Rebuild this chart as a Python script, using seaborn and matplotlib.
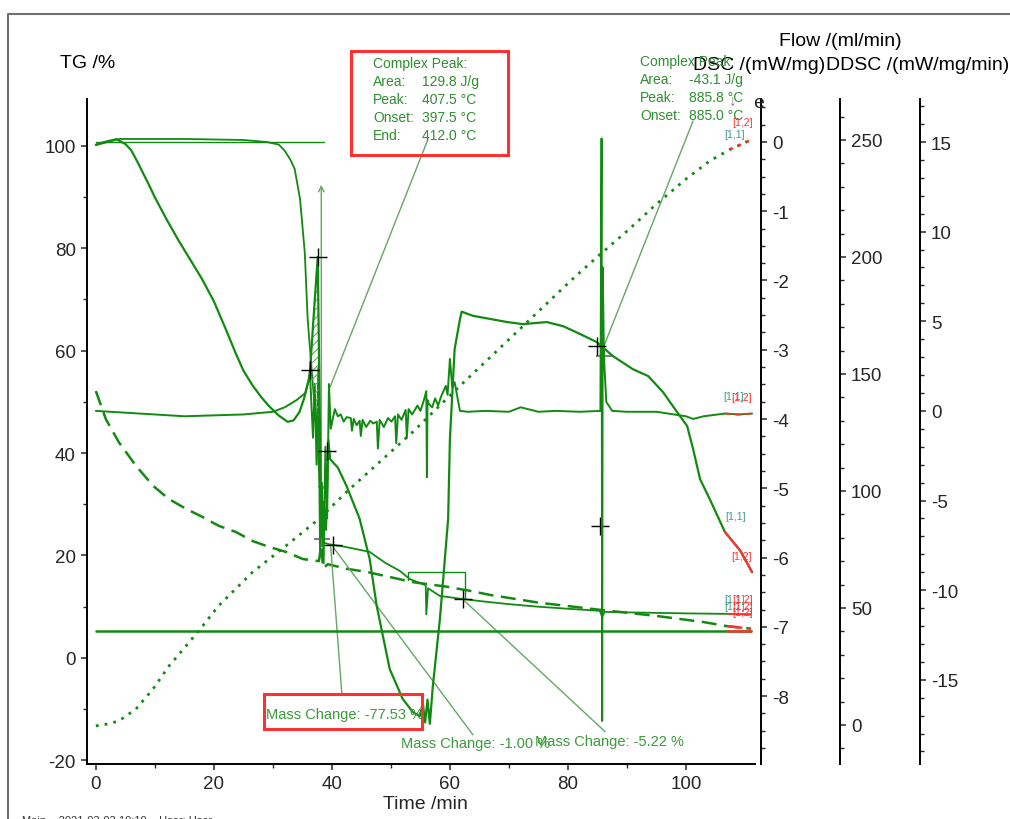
import matplotlib
matplotlib.use("Agg")
import matplotlib.pyplot as plt
from matplotlib.patches import Rectangle
from matplotlib.lines import Line2D
from matplotlib.ticker import MultipleLocator, FixedLocator
import numpy as np
import seaborn as sns

# ---- data (time in min) ----
# TG /% (solid)
tg_t = [0, 2, 4, 8, 15, 20, 25, 29, 31, 32, 33, 33.7, 34.6, 35.4, 35.9, 36.8, 37.5, 38.0, 38.3, 38.6,
        39.5, 42.2, 46.4, 49, 51.5, 53.2, 55.4, 55.9, 56.0, 56.3, 58.3, 62.2, 65.1, 70, 75, 80, 85.4,
        85.8, 86.2, 90, 95, 100, 107, 111]
tg_v = [100.1, 100.7, 101.3, 101.3, 101.3, 101.2, 101.1, 100.7, 100.2, 99.0, 97.2, 95.4, 89.6, 79.2,
        66.0, 53.0, 43.0, 33.0, 23.0, 22.5, 22.2, 21.7, 20.7, 18.6, 17.0, 15.4, 14.4, 14.2, 8.5, 13.6,
        12.1, 11.5, 11.1, 10.5, 10.0, 9.6, 9.2, 8.0, 9.0, 8.9, 8.8, 8.7, 8.6, 8.5]

# second mass curve (dashed, TG scale)
da_t = [0, 1.7, 3.9, 6.8, 9.7, 12.4, 15.3, 18.1, 20.8, 23.7, 26.6, 29.3, 32.2, 35.1, 37.8, 38.2, 38.5,
        39.3, 42.5, 45.9, 49.8, 53.7, 59.5, 63.4, 66.8, 75, 85.4, 95, 103, 107, 111]
da_v = [52.1, 46.6, 42.1, 37.5, 33.6, 31.0, 29.1, 27.5, 25.8, 24.6, 22.8, 21.7, 20.7, 19.3, 18.9, 22.0,
        17.5, 18.3, 17.4, 16.8, 15.8, 14.8, 13.9, 13.1, 12.3, 10.8, 9.4, 8.2, 7.0, 6.2, 5.7]

# DSC /(mW/mg)
dsc_t = [0, 1.5, 3.5, 5, 6, 7, 8, 9, 10, 12, 14, 16, 18, 20, 22, 23.7, 25, 26.6, 28, 29.3, 31, 32.5,
         33.5, 34.5, 35.3, 36.1, 36.3, 37.0, 37.6,
         37.9, 38.2, 38.6, 39.0, 39.4, 39.7, 41.0, 42.5, 44.7, 46.4, 47.6, 49.8, 52.0, 53.7, 54.9, 55.4,
         55.8, 56.2, 56.6, 57.1, 58.3, 59.7, 60.0, 60.8, 61.7, 62.0, 63.9, 69.7, 72.4, 76.4, 79.2, 82.0,
         84.9, 87.6, 91.0, 93.6, 96.1, 98.5, 100.2, 101.2, 102.4, 104.0, 106.6, 109.2, 111.2]
dsc_v = [-0.04, 0.0, 0.04, -0.03, -0.12, -0.28, -0.45, -0.62, -0.80, -1.12, -1.42, -1.70, -1.98,
         -2.30, -2.70, -3.05, -3.30, -3.52, -3.68, -3.81, -3.95, -4.04,
         -4.02, -3.90, -3.70, -3.42, -3.29, -2.40, -1.66, -3.60, -5.70, -5.20, -5.60, -4.30, -4.58,
         -4.70, -4.97, -5.44, -6.02, -6.70, -7.61, -8.04, -8.23, -8.29, -8.10, -8.38, -8.05, -8.40,
         -7.86, -6.89, -5.44, -4.29, -2.99, -2.56, -2.45, -2.51, -2.60, -2.63, -2.60, -2.66, -2.77,
         -2.89, -3.09, -3.28, -3.38, -3.61, -3.90, -4.10, -4.43, -4.87, -5.15, -5.63, -5.90, -6.21]

# DDSC /(mW/mg/min)
dd_t = [0, 5, 10, 15, 20, 25, 30, 32, 34, 35.5, 36.3, 36.8, 37.1, 37.4, 37.7, 38.0, 38.3, 38.6, 38.9,
        39.2, 39.5, 39.8, 40.5, 41.0, 41.5, 42.0, 42.5, 43.2, 43.4, 43.7, 44.2, 44.7, 44.9, 45.2, 45.8,
        46.5, 47.0, 47.6, 47.8, 48.1, 48.8, 49.5, 50.1, 50.7, 50.9, 51.2, 51.8, 52.5, 52.7, 53.0, 53.6,
        54.5, 55.0, 55.5, 56.0, 56.1, 56.2, 56.4, 57.0, 57.5, 58.0, 58.5, 59.3,
        59.6, 60.0, 60.4, 60.8, 61.7, 63, 66, 70, 72, 75, 78, 82, 85.5, 85.7, 85.8, 85.9, 86.1, 86.5,
        87.5, 90, 95, 100, 101.2, 103, 106.6, 109, 111.2]
dd_v = [0, -0.1, -0.2, -0.3, -0.25, -0.2, -0.05, 0.2, 0.6, 1.0, 2.0, -1.5, 1.5, -3.0, 2.4, -8.0, -4.0,
        -8.5, -2.0, -6.0, 1.5, -1.0, 0.1, -0.3, -0.2, -0.6, -0.35, -0.4, -1.1, -0.45, -0.8, -0.55,
        -1.4, -0.5, -0.9, -0.55, -0.7, -0.6, -2.1, -0.5, -0.9, -0.4, -0.6, -0.3, -1.8, -0.2, -0.5,
        0.05, -1.5, 0.1, -0.2, 0.3, 0.0, 0.5, 1.1, -3.7, 0.6, 0.4, 0.2, 0.7, 0.3, 0.8, 1.4,
        0.9, 2.9, 1.3, 1.6, 0.0, -0.05, 0.0, -0.05, 0.2, -0.05, 0.0, -0.05, 0.0, 15.2, -17.3,
        8.0, 3.0, 0.5, 0.0, -0.05, -0.05, -0.3, -0.45, -0.3, -0.15, -0.2, -0.15]

# Flow /(ml/min): dotted ramp and constant purge
dot_t = [0, 2, 3.9, 6.8, 9.7, 12.4, 15.3, 18.1, 20.8, 26.6, 32.2, 37.8, 42.5, 53.7, 61.7, 65.1, 80.8,
         85.4, 90, 95, 100, 104, 107.5, 111]
dot_v = [-0.4, 0.4, 1.7, 6.8, 15.4, 25.2, 33.8, 42.3, 50.9, 65.4, 76.5, 88.0, 99.6, 125.2, 144.9, 153.0,
         190.6, 201.0, 211.0, 222.6, 233.3, 241.0, 246.0, 250.0]
flow_t = [0, 107, 111]
flow_v = [40, 40, 40]

# evaluation marks
ref_t = [0, 38.6]
ref_v = [100.7, 100.7]
pk_t = [36.3, 36.8, 37.2, 37.6, 37.9]
pk_top = [-3.29, -2.65, -2.15, -1.66, -3.6]
pk_base = [-3.29, -3.5, -3.7, -3.9, -4.1]
cross_dsc_t = [36.3, 37.6, 39.2, 84.9]
cross_dsc_v = [-3.29, -1.66, -4.46, -2.95]
cross_tg_t = [40.2, 62.2, 85.4]
cross_tg_v = [22.0, 11.5, 25.8]
gray_tg_t = [38.3, 86.1]
gray_tg_v = [23.2, 59.0]

GREEN = "#128a12"
TXT = "#2f8f2f"
LEAD = "#63a863"
RED = "#ff3030"
W, H = 1010, 820


def fpos(x, y):
    return x / W, 1 - y / H


def draw_curve(ax, t, v, cut, ls="-", lw=1.6, red_ls=None):
    t = np.asarray(t)
    v = np.asarray(v)
    sns.lineplot(x=t, y=v, ax=ax, color=GREEN, lw=lw, linestyle=ls, sort=False, estimator=None)
    m = t >= cut
    sns.lineplot(x=t[m], y=v[m], ax=ax, color=RED, lw=lw, linestyle=red_ls or ls,
                 sort=False, estimator=None)


def style_right(ax, pos, lim, major, minor):
    for s in ["top", "left", "bottom"]:
        ax.spines[s].set_visible(False)
    ax.spines["right"].set_position(("axes", pos))
    ax.spines["right"].set_linewidth(1.4)
    ax.spines["right"].set_color("black")
    ax.set_ylim(*lim)
    ax.yaxis.set_major_locator(MultipleLocator(major))
    ax.yaxis.set_minor_locator(MultipleLocator(minor))
    ax.tick_params(axis="y", which="major", length=4, width=1.1, labelsize=13.5, pad=4)
    ax.tick_params(axis="y", which="minor", length=3, width=1.0)
    ax.set_ylabel("")


def main():
    sns.set_style("ticks")
    plt.rcParams["font.family"] = ["Liberation Sans", "DejaVu Sans"]
    plt.rcParams["axes.unicode_minus"] = False
    plt.rcParams["hatch.linewidth"] = 0.8

    fig = plt.figure(figsize=(W / 100, H / 100), dpi=100)
    ax = fig.add_axes([87 / W, 55 / H, 668 / W, 665 / H])
    ax.patch.set_alpha(0)
    ax_dd = ax.twinx()
    ax_flow = ax.twinx()
    ax_dsc = ax.twinx()

    # curves
    draw_curve(ax_dd, dd_t, dd_v, 106.6, lw=1.4, red_ls=(0, (3, 2)))
    draw_curve(ax_flow, flow_t, flow_v, 107, lw=1.8)
    draw_curve(ax_flow, dot_t, dot_v, 107.5, ls=(0, (1, 2.2)), lw=2.0)
    draw_curve(ax, da_t, da_v, 107, ls=(0, (6, 3)), lw=1.8)
    draw_curve(ax, tg_t, tg_v, 107, lw=1.3)
    draw_curve(ax_dsc, dsc_t, dsc_v, 106.6, lw=1.6)

    ax.plot(ref_t, ref_v, color=GREEN, lw=1.0)
    ax_dsc.fill_between(pk_t, pk_top, pk_base, facecolor="none", edgecolor=LEAD,
                        hatch="////", linewidth=0)

    # leader lines and step brackets (TG scale)
    leaders = [([56.3, 39.7], [101.3, 52.9]), ([101.2, 85.9], [104.8, 60.3]),
               ([41.7, 39.8], [-7.2, 21.7]), ([63.9, 40.3], [-15.0, 21.5]),
               ([86.3, 62.5], [-14.4, 11.1])]
    for lx, ly in leaders:
        ax.plot(lx, ly, color=LEAD, lw=1.0)
    ax.plot([52.9, 52.9, 62.5, 62.5], [15.2, 16.8, 16.8, 11.5], color=GREEN, lw=1.0)
    ax.annotate("", xy=(38.2, 92.9), xytext=(38.2, 31.6),
                arrowprops=dict(arrowstyle="<->", color=LEAD, lw=1.0, mutation_scale=10))

    ax_dsc.plot(cross_dsc_t, cross_dsc_v, "+", color="black", ms=13, mew=1.0)
    ax.plot(cross_tg_t, cross_tg_v, "+", color="black", ms=13, mew=1.0)
    ax.plot(gray_tg_t, gray_tg_v, "+", color="#808080", ms=12, mew=1.5)

    # axes styling
    for s in ["top", "right"]:
        ax.spines[s].set_visible(False)
    for s in ["left", "bottom"]:
        ax.spines[s].set_linewidth(1.4)
        ax.spines[s].set_color("black")
    ax.set_xlim(-1.5, 111.7)
    ax.set_ylim(-20.7, 109.1)
    ax.xaxis.set_major_locator(FixedLocator([0, 20, 40, 60, 80, 100]))
    ax.xaxis.set_minor_locator(FixedLocator([10, 30, 50, 70, 90]))
    ax.yaxis.set_major_locator(MultipleLocator(20))
    ax.yaxis.set_minor_locator(MultipleLocator(10))
    ax.tick_params(which="major", length=4, width=1.1, labelsize=13.5, pad=4)
    ax.tick_params(which="minor", length=3, width=1.0)
    ax.set_xlabel("")
    ax.set_ylabel("")

    style_right(ax_dsc, 1.009, (-8.98, 0.62), 1, 0.25)
    style_right(ax_flow, 1.127, (-16.7, 267.5), 50, 10)
    style_right(ax_dd, 1.247, (-19.7, 17.4), 5, 1)

    # axis titles
    lab = dict(size=14, va="center", ha="left", color="black")
    fig.text(*fpos(60, 64), "TG /%", **lab)
    fig.text(*fpos(693, 65), "DSC /(mW/mg)", **lab)
    fig.text(*fpos(779, 41), "Flow /(ml/min)", **lab)
    fig.text(*fpos(826, 65), "DDSC /(mW/mg/min)", **lab)
    fig.text(*fpos(425, 805), "Time /min", size=14, ha="center", va="center")
    fig.text(*fpos(753, 103), "e", size=14, ha="left", va="center")
    fig.text(*fpos(733, 100), "\u2193", size=11, ha="center", va="center", color="#808080")

    # peak evaluation boxes
    ann = dict(size=10, color=TXT, va="center", ha="left")
    left_rows = [("Complex Peak:", ""), ("Area:", "129.8 J/g"), ("Peak:", "407.5 \u00b0C"),
                 ("Onset:", "397.5 \u00b0C"), ("End:", "412.0 \u00b0C")]
    for i, (k, v) in enumerate(left_rows):
        y = 64 + i * 18
        fig.text(*fpos(373, y), k, **ann)
        fig.text(*fpos(422, y), v, **ann)
    right_rows = [("Complex Peak:", ""), ("Area:", "-43.1 J/g"), ("Peak:", "885.8 \u00b0C"),
                  ("Onset:", "885.0 \u00b0C")]
    for i, (k, v) in enumerate(right_rows):
        y = 62 + i * 18
        fig.text(*fpos(640, y), k, **ann)
        fig.text(*fpos(689, y), v, **ann)

    fig.patches.append(Rectangle(fpos(351, 156), 157 / W, 104 / H, fill=False, ec=RED, lw=2.2,
                                 transform=fig.transFigure))
    fig.patches.append(Rectangle(fpos(264, 730), 158 / W, 35 / H, fill=False, ec=RED, lw=2.2,
                                 transform=fig.transFigure))

    mc = dict(size=10.5, color="#3b9a3b", va="center", ha="left")
    fig.text(*fpos(266, 715), "Mass Change: -77.53 %", **mc)
    fig.text(*fpos(401, 744), "Mass Change: -1.00 %", **mc)
    fig.text(*fpos(535, 742), "Mass Change: -5.22 %", **mc)

    # segment tags at curve ends
    tag = dict(size=7.5, ha="center", va="center")
    for x, y in [(735, 135), (734, 397), (736, 517), (735, 600), (735, 607)]:
        fig.text(*fpos(x, y), "[1,1]", color="#3a9a8a", **tag)
    for x, y in [(743, 123), (742, 398), (742, 557), (743, 600), (743, 607), (743, 613)]:
        fig.text(*fpos(x, y), "[1,2]", color=RED, **tag)

    # outer frame and footer
    fig.lines.append(Line2D([8 / W, 8 / W, 1.0], [0, 1 - 15 / H, 1 - 15 / H], color="#707070",
                            lw=1.5, transform=fig.transFigure))
    fig.text(*fpos(22, 821), "Main    2021-03-03 10:10    User: User", size=8, color="#333333",
             va="center", ha="left")

    fig.savefig("out.png", dpi=100)


if __name__ == "__main__":
    main()
